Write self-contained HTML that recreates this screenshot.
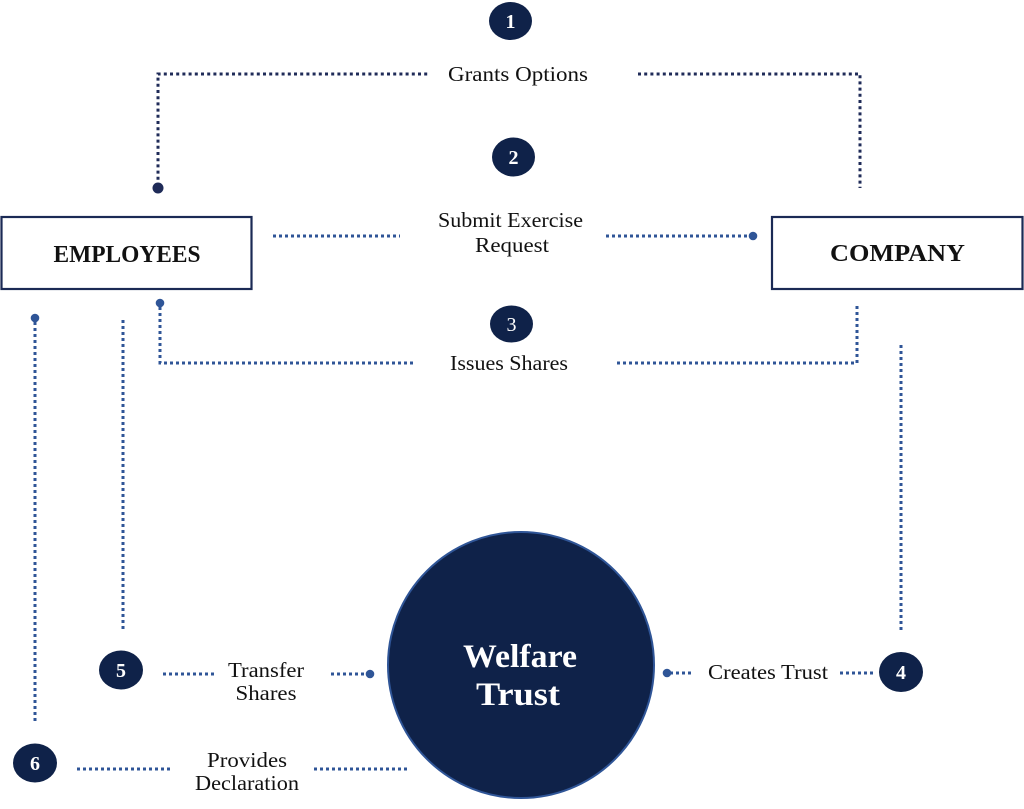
<!DOCTYPE html>
<html>
<head>
<meta charset="utf-8">
<style>
html,body{margin:0;padding:0;background:#fff;}
svg{display:block;}
text{font-family:"Liberation Serif","DejaVu Serif",serif;}
</style>
</head>
<body>
<svg width="1024" height="809" viewBox="0 0 1024 809" xmlns="http://www.w3.org/2000/svg">
  <rect width="1024" height="809" fill="#fff"/>

  <!-- Top connector (Grants Options) - dark navy -->
  <g fill="none" stroke="#1f2b58" stroke-width="3" stroke-dasharray="3 3.2">
    <polyline points="158,186 158,74 430,74"/>
    <polyline points="638,74 860,74 860,188"/>
  </g>
  <circle cx="158" cy="188" r="5.5" fill="#1f2b58"/>

  <!-- Blue dotted connectors -->
  <g fill="none" stroke="#2f5597" stroke-width="3" stroke-dasharray="3 3">
    <!-- Submit exercise -->
    <line x1="273" y1="236" x2="400" y2="236"/>
    <line x1="606" y1="236" x2="750" y2="236"/>
    <!-- Issues shares -->
    <polyline points="160,307 160,363 416,363"/>
    <polyline points="617,363 857,363 857,306"/>
    <!-- company to 4 -->
    <line x1="901" y1="345" x2="901" y2="630"/>
    <!-- employees to 5 -->
    <line x1="123" y1="320" x2="123" y2="630"/>
    <!-- employees to 6 -->
    <line x1="35" y1="322" x2="35" y2="722"/>
    <!-- Transfer shares -->
    <line x1="163" y1="674" x2="216" y2="674"/>
    <line x1="331" y1="674" x2="368" y2="674"/>
    <!-- Creates trust -->
    <line x1="670" y1="673" x2="692" y2="673"/>
    <line x1="840" y1="673" x2="876" y2="673"/>
    <!-- Provides declaration -->
    <line x1="77" y1="769" x2="170" y2="769"/>
    <line x1="314" y1="769" x2="408" y2="769"/>
  </g>
  <g fill="#2f5597">
    <circle cx="753" cy="236" r="4.3"/>
    <circle cx="160" cy="303" r="4.3"/>
    <circle cx="35" cy="318" r="4.3"/>
    <circle cx="370" cy="674" r="4.3"/>
    <circle cx="667" cy="673" r="4.3"/>
  </g>

  <!-- Boxes -->
  <rect x="1.5" y="217" width="250" height="72" fill="#fff" stroke="#1b2a55" stroke-width="2.2"/>
  <text x="127" y="262" text-anchor="middle" font-size="24" font-weight="bold" fill="#111" textLength="147" lengthAdjust="spacingAndGlyphs">EMPLOYEES</text>
  <rect x="772" y="217" width="250.5" height="72" fill="#fff" stroke="#1b2a55" stroke-width="2.2"/>
  <text x="897.5" y="261" text-anchor="middle" font-size="24" font-weight="bold" fill="#111" textLength="135" lengthAdjust="spacingAndGlyphs">COMPANY</text>

  <!-- Welfare Trust circle -->
  <circle cx="521" cy="665" r="133" fill="#0f2249" stroke="#2f5597" stroke-width="2"/>
  <text x="520" y="667" text-anchor="middle" font-size="33" font-weight="bold" fill="#fff" textLength="114" lengthAdjust="spacingAndGlyphs">Welfare</text>
  <text x="518" y="705" text-anchor="middle" font-size="33" font-weight="bold" fill="#fff" textLength="84" lengthAdjust="spacingAndGlyphs">Trust</text>

  <!-- Badges -->
  <g fill="#0f2249">
    <ellipse cx="510.5" cy="21" rx="21.5" ry="19"/>
    <ellipse cx="513.5" cy="157" rx="21.5" ry="19.5"/>
    <ellipse cx="511.5" cy="324" rx="21.5" ry="18.5"/>
    <ellipse cx="901" cy="672" rx="22" ry="20"/>
    <ellipse cx="121" cy="670" rx="22" ry="19.5"/>
    <ellipse cx="35" cy="763" rx="22" ry="19.5"/>
  </g>
  <g fill="#fff" font-size="20" font-weight="bold" text-anchor="middle">
    <text x="510.5" y="28">1</text>
    <text x="513.5" y="164">2</text>
    <text x="511.5" y="331" font-weight="normal">3</text>
    <text x="901" y="679">4</text>
    <text x="121" y="677">5</text>
    <text x="35" y="770">6</text>
  </g>

  <!-- Labels -->
  <g fill="#111" font-size="21" text-anchor="middle">
    <text x="518" y="81" textLength="140" lengthAdjust="spacingAndGlyphs">Grants Options</text>
    <text x="510.5" y="227" textLength="145" lengthAdjust="spacingAndGlyphs">Submit Exercise</text>
    <text x="512" y="252" textLength="74" lengthAdjust="spacingAndGlyphs">Request</text>
    <text x="509" y="370" textLength="118" lengthAdjust="spacingAndGlyphs">Issues Shares</text>
    <text x="768" y="679" textLength="120" lengthAdjust="spacingAndGlyphs">Creates Trust</text>
    <text x="266" y="677" textLength="76" lengthAdjust="spacingAndGlyphs">Transfer</text>
    <text x="266" y="700" textLength="61" lengthAdjust="spacingAndGlyphs">Shares</text>
    <text x="247" y="767" textLength="80" lengthAdjust="spacingAndGlyphs">Provides</text>
    <text x="247" y="790" textLength="104" lengthAdjust="spacingAndGlyphs">Declaration</text>
  </g>
</svg>
</body>
</html>
